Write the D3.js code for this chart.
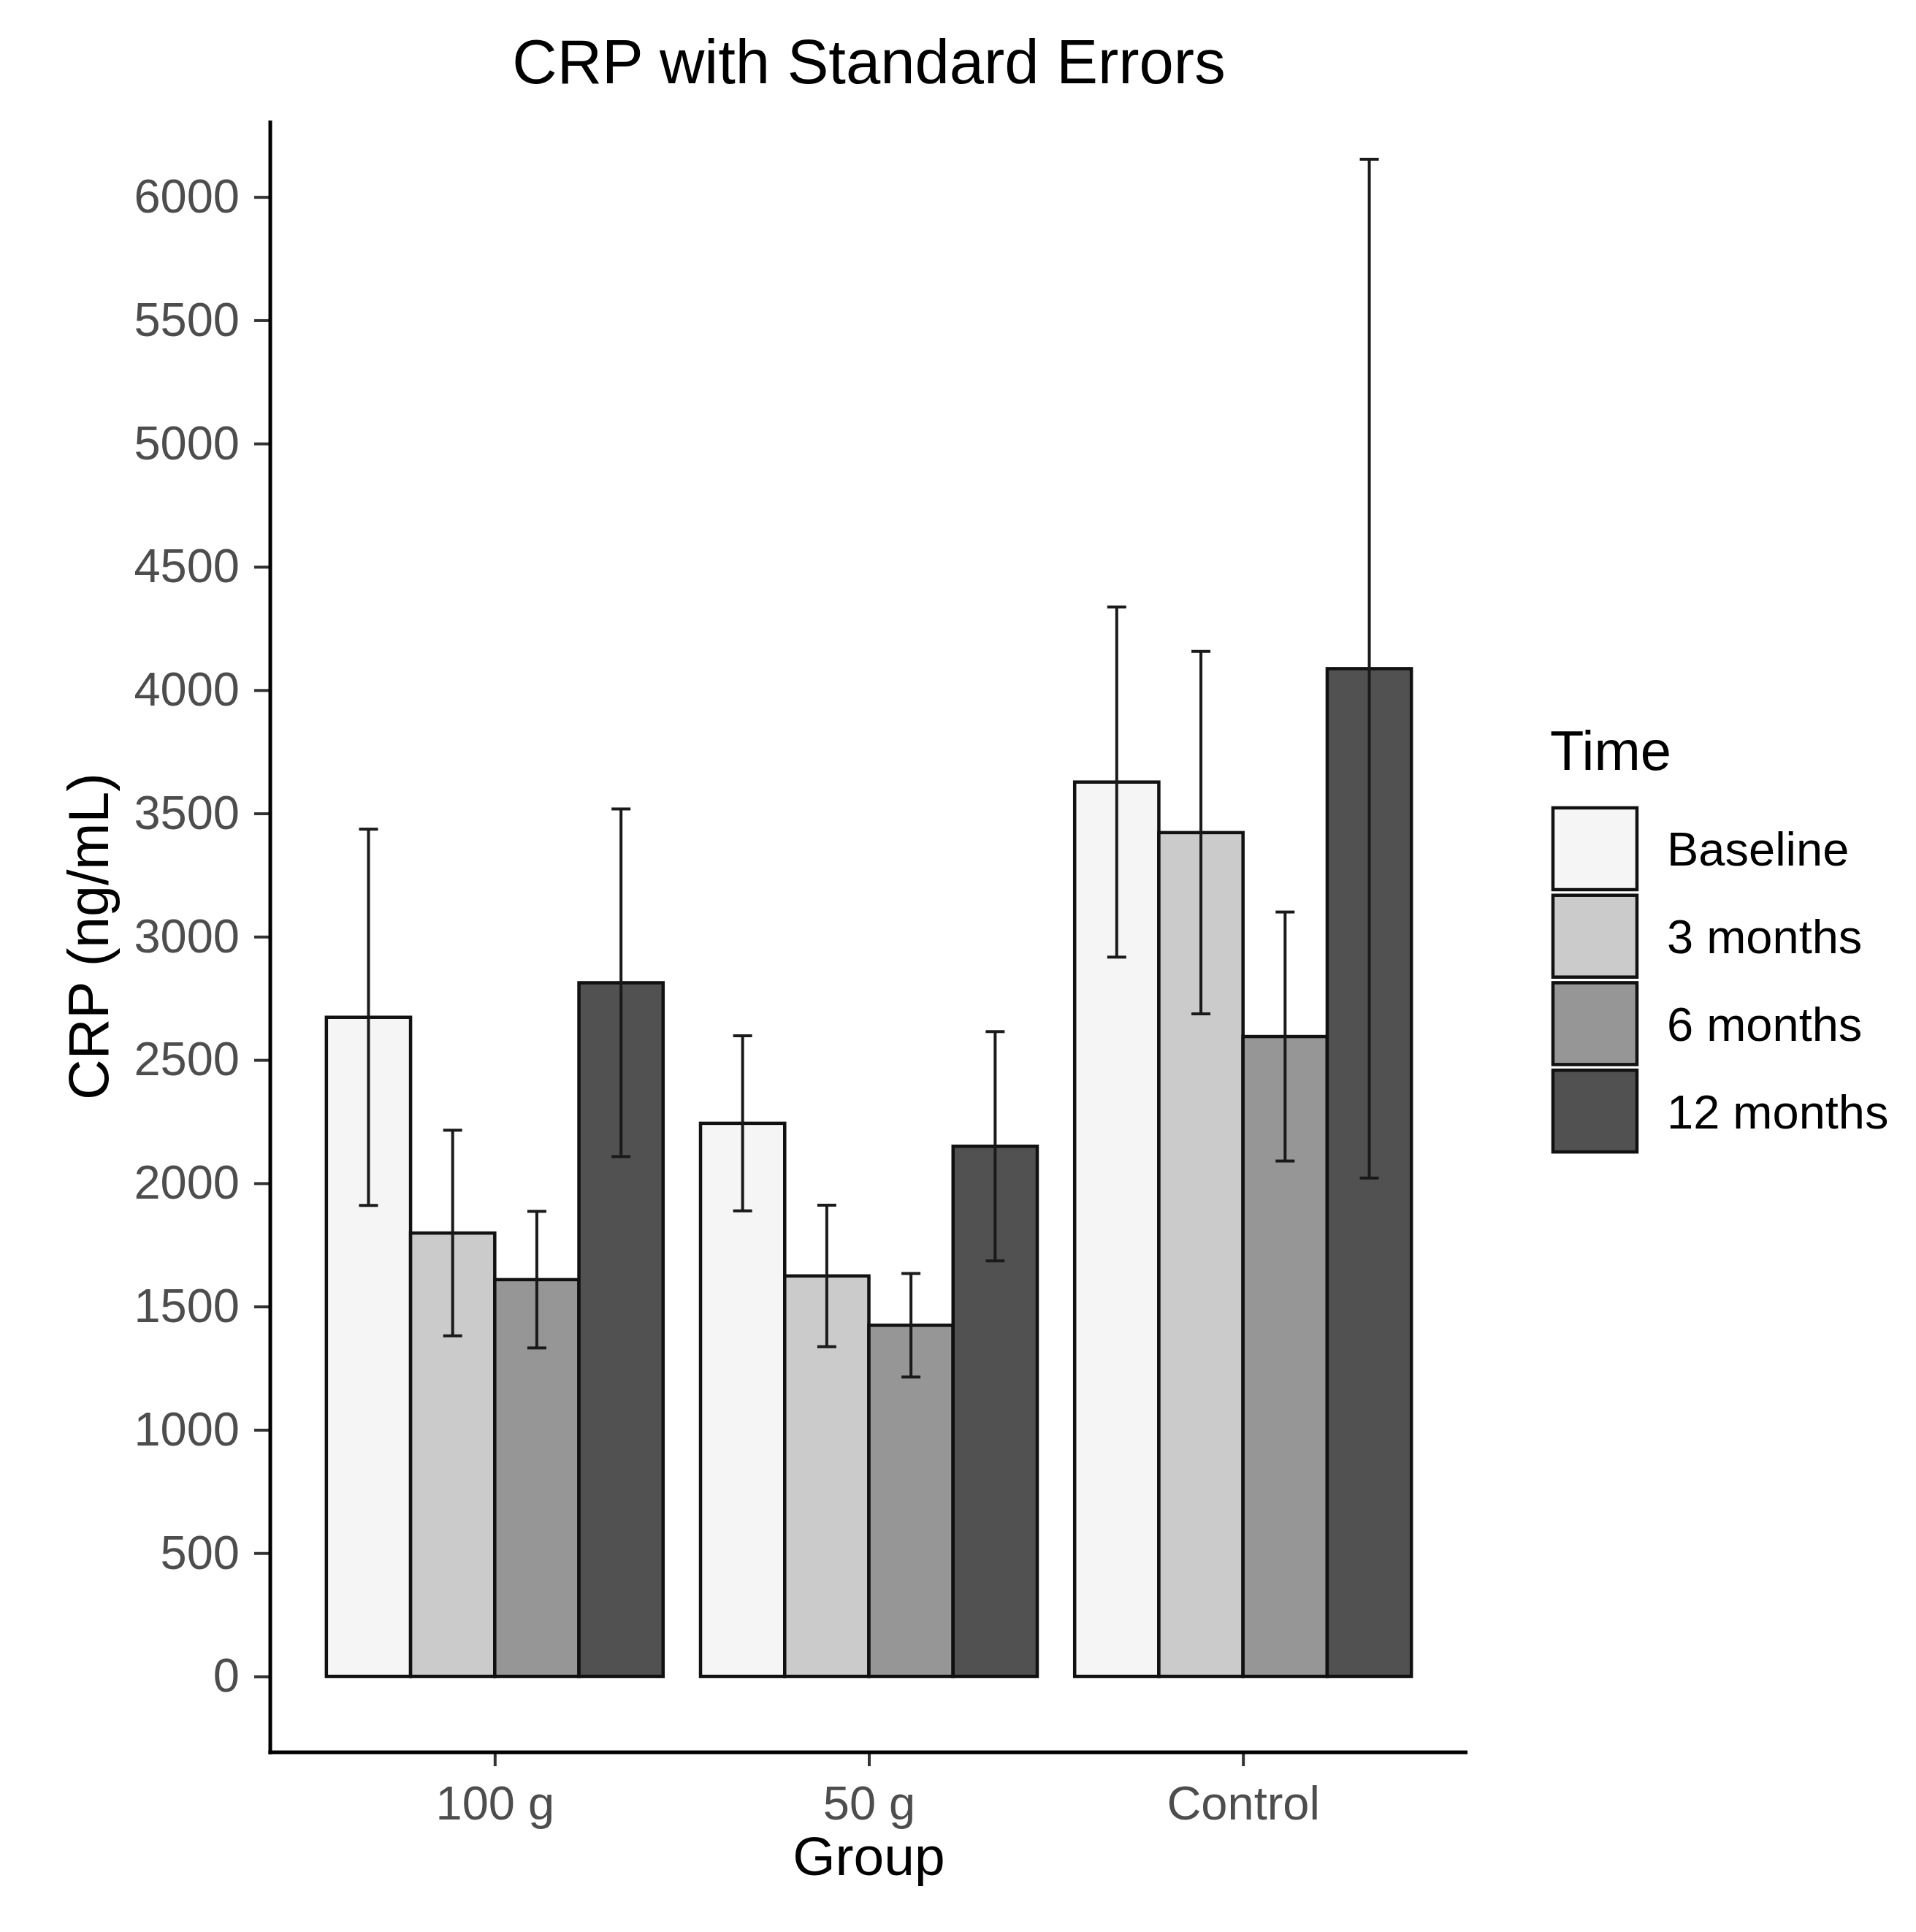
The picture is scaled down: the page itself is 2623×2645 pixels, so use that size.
<!DOCTYPE html>
<html>
<head>
<meta charset="utf-8">
<script src="https://cdn.jsdelivr.net/npm/d3@7"></script>
<style>
  html, body { margin: 0; padding: 0; background: #ffffff; }
  svg { display: block; font-family: "Liberation Sans", Arial, sans-serif; }
</style>
</head>
<body>
<svg id="chart" width="2623" height="2645"></svg>
<script>
// ---- Data ----
const groups = ["100 g", "50 g", "Control"];
const times = ["Baseline", "3 months", "6 months", "12 months"];
// mean CRP (ng/mL) per group, ordered as times
const mean100g = [2673, 1798, 1609, 2813];
const mean50g = [2243, 1624, 1424, 2150];
const meanControl = [3627, 3422, 2595, 4087];
// standard errors
const se100g = [763, 417, 277, 705];
const se50g = [355, 287, 210, 465];
const seControl = [710, 735, 505, 2066];
const yTicks = [0, 500, 1000, 1500, 2000, 2500, 3000, 3500, 4000, 4500, 5000, 5500, 6000];
const fillColors = ["#f5f5f5", "#cbcbcb", "#969696", "#515151"];

const means = [mean100g, mean50g, meanControl];
const ses = [se100g, se50g, seControl];
const rows = [];
groups.forEach((g, gi) => times.forEach((t, ti) => rows.push({group: g, time: t, mean: means[gi][ti], se: ses[gi][ti]})));

// ---- Layout ----
const panel = {left: 370, right: 2009, top: 165, bottom: 2399};
const yDomain = [-308, 6310];

const svg = d3.select("#chart");

const x = d3.scalePoint().domain(groups).range([panel.left, panel.right]).padding(0.6);
const step = x.step();
const xInner = d3.scaleBand().domain(times).range([-0.45 * step, 0.45 * step]).padding(0);
const y = d3.scaleLinear().domain(yDomain).range([panel.bottom, panel.top]);
const color = d3.scaleOrdinal().domain(times).range(fillColors);

// Bars
svg.append("g").selectAll("rect").data(rows).join("rect")
  .attr("x", d => x(d.group) + xInner(d.time))
  .attr("y", d => y(d.mean))
  .attr("width", xInner.bandwidth())
  .attr("height", d => y(0) - y(d.mean))
  .attr("fill", d => color(d.time))
  .attr("stroke", "#111")
  .attr("stroke-width", 4.5);

// Error bars
const capHalf = 13;
const eb = svg.append("g").attr("stroke", "#1a1a1a").attr("stroke-width", 4).attr("fill", "none");
rows.forEach(d => {
  const cx = x(d.group) + xInner(d.time) + xInner.bandwidth() / 2;
  const y1 = y(d.mean + d.se), y0 = y(d.mean - d.se);
  eb.append("line").attr("x1", cx).attr("x2", cx).attr("y1", y1).attr("y2", y0);
  eb.append("line").attr("x1", cx - capHalf).attr("x2", cx + capHalf).attr("y1", y1).attr("y2", y1);
  eb.append("line").attr("x1", cx - capHalf).attr("x2", cx + capHalf).attr("y1", y0).attr("y2", y0);
});

// Y axis
const yAxis = d3.axisLeft(y).tickValues(yTicks).tickSize(22).tickPadding(20).tickFormat(d3.format("d"));
const gy = svg.append("g").attr("transform", `translate(${panel.left},0)`).call(yAxis);
gy.select(".domain").remove();
gy.selectAll(".tick line").attr("stroke", "#333").attr("stroke-width", 4);
gy.selectAll(".tick text").attr("fill", "#4d4d4d").attr("font-size", 65).attr("font-family", "Liberation Sans, Arial, sans-serif");

// X axis
const xAxis = d3.axisBottom(x).tickSize(19).tickPadding(27);
const gx = svg.append("g").attr("transform", `translate(0,${panel.bottom})`).call(xAxis);
gx.select(".domain").remove();
gx.selectAll(".tick line").attr("stroke", "#333").attr("stroke-width", 4);
gx.selectAll(".tick text").attr("fill", "#4d4d4d").attr("font-size", 65).attr("font-family", "Liberation Sans, Arial, sans-serif");

// Axis lines
svg.append("line").attr("x1", panel.left).attr("x2", panel.left).attr("y1", panel.top).attr("y2", panel.bottom + 2.5)
  .attr("stroke", "#000").attr("stroke-width", 5);
svg.append("line").attr("x1", panel.left - 2.5).attr("x2", panel.right).attr("y1", panel.bottom).attr("y2", panel.bottom)
  .attr("stroke", "#000").attr("stroke-width", 5);

// Title
svg.append("text").attr("x", (panel.left + panel.right) / 2).attr("y", 114)
  .attr("text-anchor", "middle").attr("font-size", 85).attr("fill", "#000")
  .text("CRP with Standard Errors");

// Axis titles
svg.append("text").attr("x", (panel.left + panel.right) / 2).attr("y", 2567)
  .attr("text-anchor", "middle").attr("font-size", 75).attr("fill", "#000").text("Group");
svg.append("text").attr("transform", `translate(148,${(panel.top + panel.bottom) / 2}) rotate(-90)`)
  .attr("text-anchor", "middle").attr("font-size", 77).attr("fill", "#000").text("CRP (ng/mL)");

// Legend
const legend = svg.append("g").attr("transform", "translate(2120,0)");
legend.append("text").attr("x", 2).attr("y", 1054).attr("font-size", 76).attr("fill", "#000").text("Time");
const keyTop = 1106, keyStep = 119.7, keyW = 115, keyH = 112;
times.forEach((t, i) => {
  legend.append("rect").attr("x", 6).attr("y", keyTop + i * keyStep).attr("width", keyW).attr("height", keyH)
    .attr("fill", color(t)).attr("stroke", "#111").attr("stroke-width", 4.5);
  legend.append("text").attr("x", 162).attr("y", keyTop + i * keyStep + keyH / 2).attr("dy", "0.36em")
    .attr("font-size", 65).attr("fill", "#000").text(t);
});
</script>
</body>
</html>
